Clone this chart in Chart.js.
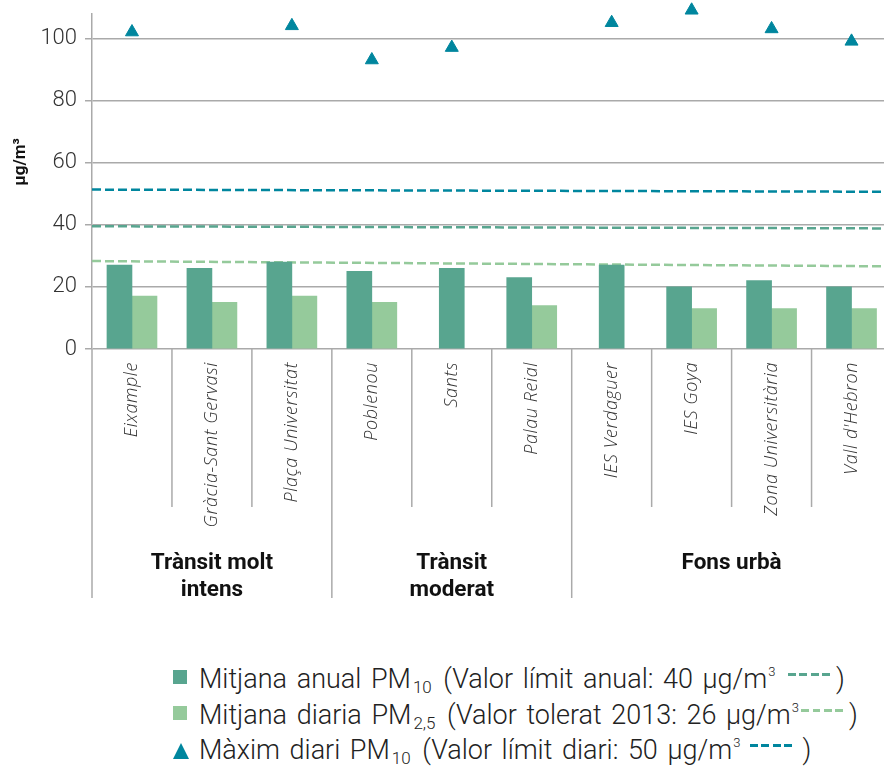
<!DOCTYPE html>
<html>
<head>
<meta charset="utf-8">
<script src="https://cdn.jsdelivr.net/npm/chart.js@4.4.1/dist/chart.umd.min.js"></script>
<style>
  html, body { margin: 0; padding: 0; background: #fff; width: 884px; height: 774px; overflow: hidden; }
  #wrap { position: absolute; left: 0; top: 0; width: 900px; height: 615px; }
  #legend { position: absolute; left: 173px; top: 662px; font-family: Roboto, sans-serif; font-weight: 300; font-size: 27px; word-spacing: 3px; color: #222; }
  .row { height: 35.5px; line-height: 35.5px; white-space: nowrap; }
  .sq { display: inline-block; width: 14px; height: 14px; margin-right: 12px; vertical-align: 4px; }
  .tri { display: inline-block; width: 16px; height: 16px; margin-right: 10px; vertical-align: 0; background: #00869e; clip-path: polygon(50% 0, 100% 100%, 0 100%); }
  .dash { display: inline-block; width: 43px; height: 3px; vertical-align: 12px; }
  sub { font-size: 17px; vertical-align: -5px; line-height: 0; margin: 0 2px 0 2px; }
  sup { font-size: 13px; vertical-align: 12px; line-height: 0; margin-left: 1px; }
</style>
</head>
<body>
<div id="wrap"><canvas id="chart" width="900" height="615"></canvas></div>
<div id="legend">
  <div class="row"><span class="sq" style="background:#58a58f"></span>Mitjana anual PM<sub>10</sub> (Valor límit anual: 40 µg/m<sup>3</sup> <span class="dash" style="margin:0 5px 0 3px;background:repeating-linear-gradient(90deg,#58a58f 0 8px,transparent 8px 11.5px)"></span>)</div>
  <div class="row"><span class="sq" style="background:#95ca9b"></span>Mitjana diaria PM<sub>2,5</sub> (Valor tolerat 2013: 26 µg/m<sup>3</sup><span class="dash" style="margin:0 5px 0 2px;background:repeating-linear-gradient(90deg,#95ca9b 0 8px,transparent 8px 11.5px)"></span>)</div>
  <div class="row"><span class="tri"></span>Màxim diari PM<sub>10</sub> (Valor límit diari: 50 µg/m<sup>3</sup> <span class="dash" style="margin:0 0 0 0;background:repeating-linear-gradient(90deg,#00869e 0 8px,transparent 8px 11.5px)"></span> )</div>
</div>
<script>
// dades
const categories = ['Eixample', 'Gràcia-Sant Gervasi', 'Plaça Universitat', 'Poblenou', 'Sants',
  'Palau Reial', 'IES Verdaguer', 'IES Goya', 'Zona Universitària', "Vall d'Hebron"];
const pm10Annual = [27, 26, 28, 25, 26, 23, 27, 20, 22, 20];
const pm25Daily = [17, 15, 17, 15, null, 14, null, 13, 13, 13];
const pm10MaxDaily = [102, null, 104, 93, 97, null, 105, 109, 103, 99];

// línies de valor límit (valor a l'inici i al final del gràfic)
const limitAnnual = [39.5, 38.8];
const limitTolerated = [28.3, 26.6];
const limitDaily = [51.3, 50.6];

// grups de estacions
const groupLabels = [['Trànsit molt', 'intens'], ['Trànsit', 'moderat'], ['Fons urbà']];
const groupSizes = [3, 3, 4];

const yTitle = 'µg/m³';

// línies discontínues de valor límit, sota les barres
const limitLines = {
  id: 'limitLines',
  beforeDatasetsDraw(chart) {
    const ctx = chart.ctx;
    const y = chart.scales.y;
    const area = chart.chartArea;
    ctx.save();
    ctx.lineWidth = 2.5;
    ctx.setLineDash([9, 4]);
    [[limitDaily, '#00869e'], [limitAnnual, '#58a58f'], [limitTolerated, '#95ca9b']].forEach(([v, color]) => {
      ctx.strokeStyle = color;
      ctx.beginPath();
      ctx.moveTo(area.left, y.getPixelForValue(v[0]));
      ctx.lineTo(area.right, y.getPixelForValue(v[1]));
      ctx.stroke();
    });
    ctx.restore();
  }
};

// etiquetes, separadors i títol de l'eix
const decorations = {
  id: 'decorations',
  afterDraw(chart) {
    const ctx = chart.ctx;
    const x = chart.scales.x;
    const area = chart.chartArea;
    const half = (x.getPixelForValue(1) - x.getPixelForValue(0)) / 2;

    // separadors
    const groupEdges = [0];
    groupSizes.forEach(n => groupEdges.push(groupEdges[groupEdges.length - 1] + n));
    ctx.save();
    ctx.strokeStyle = '#aaa';
    ctx.lineWidth = 1.5;
    for (let i = 0; i <= categories.length; i++) {
      const px = i < categories.length ? x.getPixelForValue(i) - half : x.getPixelForValue(i - 1) + half;
      const end = groupEdges.includes(i) ? 598 : 507;
      ctx.beginPath();
      ctx.moveTo(px, area.bottom);
      ctx.lineTo(px, end);
      ctx.stroke();
    }
    ctx.restore();

    // noms d'estació
    ctx.save();
    ctx.fillStyle = '#333';
    ctx.font = 'italic 300 18px "Open Sans"';
    ctx.letterSpacing = '0.6px';
    ctx.textAlign = 'right';
    ctx.textBaseline = 'middle';
    categories.forEach((c, i) => {
      ctx.save();
      ctx.translate(x.getPixelForValue(i), area.bottom + 13);
      ctx.rotate(-Math.PI / 2);
      ctx.fillText(c, 0, 0);
      ctx.restore();
    });
    ctx.restore();

    // noms de grup
    ctx.save();
    ctx.fillStyle = '#111';
    ctx.font = 'bold 22.5px Roboto';
    ctx.textAlign = 'center';
    ctx.textBaseline = 'middle';
    groupLabels.forEach((lines, g) => {
      const a = x.getPixelForValue(groupEdges[g]) - half;
      const b = x.getPixelForValue(groupEdges[g + 1] - 1) + half;
      lines.forEach((t, k) => ctx.fillText(t, (a + b) / 2, 563 + k * 27));
    });
    ctx.restore();

    // títol eix y
    ctx.save();
    ctx.fillStyle = '#111';
    ctx.font = 'bold 17px Roboto';
    ctx.textAlign = 'center';
    ctx.textBaseline = 'middle';
    ctx.translate(21, 162);
    ctx.rotate(-Math.PI / 2);
    ctx.fillText(yTitle, 0, 0);
    ctx.restore();
  }
};

new Chart(document.getElementById('chart'), {
  type: 'bar',
  data: {
    labels: categories,
    datasets: [
      {
        label: 'Mitjana anual PM10',
        data: pm10Annual,
        backgroundColor: '#58a58f',
        barThickness: 25,
        skipNull: true,
        order: 1
      },
      {
        label: 'Mitjana diaria PM2,5',
        data: pm25Daily,
        backgroundColor: '#95ca9b',
        barThickness: 25,
        skipNull: true,
        order: 1
      },
      {
        type: 'line',
        label: 'Màxim diari PM10',
        data: pm10MaxDaily,
        showLine: false,
        pointStyle: 'triangle',
        pointRadius: 7.5,
        pointBackgroundColor: '#00869e',
        pointBorderColor: '#00869e',
        pointBorderWidth: 1,
        clip: false,
        order: 0
      }
    ]
  },
  options: {
    responsive: false,
    devicePixelRatio: 1,
    animation: false,
    layout: { padding: { top: 13.4, right: 6.5, bottom: 266, left: 0 } },
    plugins: { legend: { display: false }, tooltip: { enabled: false } },
    scales: {
      x: { display: false },
      y: {
        min: 0,
        max: 108,
        ticks: {
          stepSize: 20,
          includeBounds: false,
          padding: 8,
          color: '#333',
          font: { family: 'Roboto', weight: '300', size: 22, lineHeight: 0.45 }
        },
        grid: { color: '#aaa', lineWidth: 1.5, tickLength: 7 },
        border: { color: '#aaa', width: 1.5 },
        afterFit(s) { s.width = 92; }
      }
    }
  },
  plugins: [limitLines, decorations]
});
</script>
</body>
</html>
